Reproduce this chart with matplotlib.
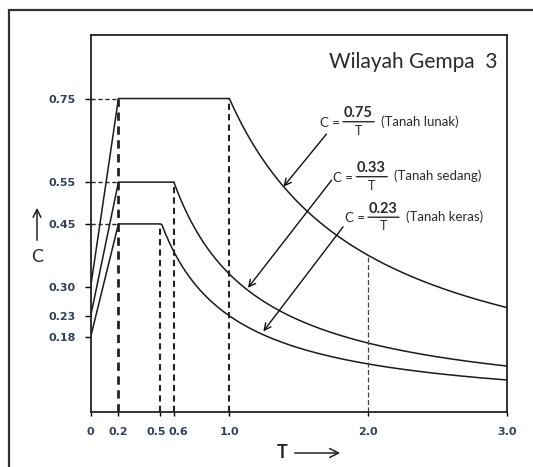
import matplotlib
matplotlib.use("Agg")
import matplotlib.pyplot as plt
from matplotlib.patches import Rectangle, FancyArrowPatch
from matplotlib.transforms import offset_copy
import numpy as np

# ---- data (SNI spectrum, Wilayah Gempa 3) ----
soils = ["Tanah lunak", "Tanah sedang", "Tanah keras"]
A0 = [0.30, 0.23, 0.18]      # C at T = 0
Am = [0.75, 0.55, 0.45]      # plateau value
T0 = [0.2, 0.2, 0.2]         # start of plateau
Tc = [1.0, 0.6, 0.5]         # corner period
Ar = [0.75, 0.33, 0.23]      # C = Ar / T beyond Tc
Ar_labels = ["0.75", "0.33", "0.23"]
T_max = 3.0
T_ref = 2.0                  # extra dashed line

yticks = [0.18, 0.23, 0.30, 0.45, 0.55, 0.75]
ytick_labels = ["0.18", "0.23", "0.30", "0.45", "0.55", "0.75"]
xticks = [0, 0.2, 0.5, 0.6, 1.0, 2.0, 3.0]
xtick_labels = ["0", "0.2", "0.5", "0.6", "1.0", "2.0", "3.0"]
xtick_shift = [0, 0, -4, 4.5, 0, 0, 0]   # pixel nudges of labels

W, H = 533, 467
PX = 0.72  # points per pixel at dpi 100
fig = plt.figure(figsize=(W / 100, H / 100), dpi=100)
fig.patch.set_facecolor("white")

# outer frame (left/top visible)
fig.add_artist(Rectangle((9 / W, -0.2), 1.2, 1 - 10 / H + 0.2,
                         transform=fig.transFigure, fill=False,
                         edgecolor="#333333", linewidth=1.6))

ax = fig.add_axes([90.7 / W, 1 - 412 / H, 416 / W, 377 / H])
ax.set_xlim(0, T_max)
ax.set_ylim(0, 0.902)
ax.set_facecolor("none")

for s in ax.spines.values():
    s.set_linewidth(1.3)
    s.set_color("#222222")

lc = "#1a1a1a"
for a0, am, t0, tc, ar in zip(A0, Am, T0, Tc, Ar):
    tt = np.linspace(tc, T_max, 200)
    T = np.concatenate([[0, t0], tt])
    C = np.concatenate([[a0, am], np.minimum(am, ar / tt)])
    ax.plot(T, C, color=lc, linewidth=1.1, solid_joinstyle="miter")

# dashed guide lines
dash = dict(color="#222222", linestyle=(0, (3, 2)))
for am in Am:
    ax.plot([0, T0[0]], [am, am], linewidth=1.0, **dash)
ax.plot([T0[0], T0[0]], [0, max(Am)], linewidth=2.0, **dash)
for tc, am in zip(Tc, Am):
    ax.plot([tc, tc], [0, am], linewidth=1.5, **dash)
ax.plot([T_ref, T_ref], [0, Ar[0] / T_ref], linewidth=0.9,
        color="#444444", linestyle=(0, (4, 2)))

# ticks
tick_color = "#34405a"
ax.set_yticks(yticks)
ax.set_yticklabels(ytick_labels)
ax.tick_params(axis="y", direction="out", length=4.5, width=1.0,
               pad=6, labelsize=8, labelcolor=tick_color)
for lab in ax.get_yticklabels():
    lab.set_fontweight("bold")
ax.set_xticks(xticks)
ax.set_xticklabels([""] * len(xticks))
ax.tick_params(axis="x", direction="out", length=3, width=1.0)
for x, lab, sh in zip(xticks, xtick_labels, xtick_shift):
    ax.annotate(lab, xy=(x, 0), xycoords=("data", "axes fraction"),
                xytext=(sh * PX, -11), textcoords="offset points",
                ha="center", va="top", fontsize=8, fontweight="bold",
                color=tick_color, family="DejaVu Sans")

# title
ax.text(2.937, 0.822, "Wilayah Gempa  3", ha="right", va="baseline",
        fontsize=15, family="Lato", color="#2a2a2a")

# annotations: C = num / T  (name)
txt_col = "#2a2a2a"
txt_pos = [(1.654, 0.6945), (1.750, 0.563), (1.834, 0.466)]
arr_start = [(1.70, 0.665), (1.738, 0.555), (1.82, 0.443)]
arr_tip = [(1.39, 0.539), (1.134, 0.297), (1.245, 0.193)]


def at(dx_px, dy_px):
    return offset_copy(ax.transData, fig=fig, x=dx_px * PX, y=dy_px * PX,
                       units="points")


for name, lab, (tx, ty), st, tip in zip(soils, Ar_labels, txt_pos,
                                         arr_start, arr_tip):
    ax.text(tx, ty, "C =", transform=at(0, -1), ha="left", va="center",
            fontsize=9.5, family="Lato", color=txt_col)
    ax.text(tx, ty, lab, transform=at(38, 8.5), ha="center", va="center",
            fontsize=10.5, family="Lato", fontweight="bold", color=txt_col)
    ax.text(tx, ty, "T", transform=at(38, -9), ha="center", va="center",
            fontsize=9, family="Lato", color=txt_col)
    ax.annotate("", xy=(tx, ty), xycoords=at(23, 0),
                xytext=(31 * PX, 0), textcoords="offset points",
                arrowprops=dict(arrowstyle="-", color=txt_col, lw=1.0,
                                shrinkA=0, shrinkB=0))
    ax.text(tx, ty, "(%s)" % name, transform=at(61, 0.5), ha="left",
            va="center", fontsize=9.5, family="Lato", color=txt_col)
    ax.annotate("", xy=tip, xytext=st,
                arrowprops=dict(arrowstyle="->", color="#111111",
                                lw=1.0, mutation_scale=12,
                                shrinkA=0, shrinkB=0))

# axis labels with arrows
fig.text(37 / W, 1 - 257 / H, "C", ha="center", va="center",
         fontsize=13, family="Lato", color="#222222")
fig.add_artist(FancyArrowPatch((37 / W, 1 - 243 / H), (37 / W, 1 - 205 / H),
                               transform=fig.transFigure, arrowstyle="->",
                               mutation_scale=14, lw=1.1, color="#222222"))
fig.text(282 / W, 1 - 453 / H, "T", ha="center", va="center",
         fontsize=13, family="Lato", fontweight="bold", color="#222222")
fig.add_artist(FancyArrowPatch((292 / W, 1 - 453 / H), (343 / W, 1 - 453 / H),
                               transform=fig.transFigure, arrowstyle="->",
                               mutation_scale=16, lw=1.1, color="#222222"))

fig.savefig("out.png", dpi=100)
